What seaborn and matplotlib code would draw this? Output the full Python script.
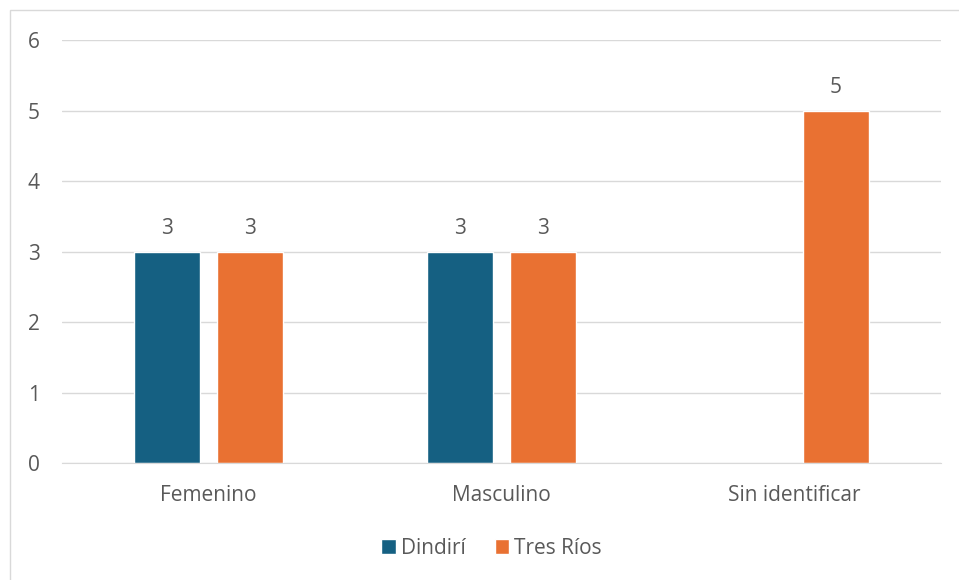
import matplotlib
matplotlib.use("Agg")
import matplotlib.pyplot as plt
import seaborn as sns
import pandas as pd
from matplotlib.patches import Rectangle

categorias = ["Femenino", "Masculino", "Sin identificar"]
dindiri = [3, 3, None]
tres_rios = [3, 3, 5]
series = ["Dindirí", "Tres Ríos"]
colores = ["#156082", "#E97132"]

df = pd.DataFrame({
    "categoria": categorias * 2,
    "serie": [series[0]] * 3 + [series[1]] * 3,
    "valor": dindiri + tres_rios,
})

sns.set_style("white")
plt.rcParams["font.family"] = ["Open Sans", "DejaVu Sans"]
texto = "#595959"
fs = 15

fig = plt.figure(figsize=(9.59, 5.8), dpi=100)
ax = fig.add_axes([0.0647, 0.2017, 0.9163, 0.7293])

sns.barplot(data=df, x="categoria", y="valor", hue="serie", palette=colores,
            width=0.57, gap=0.21, saturation=1, ax=ax, legend=True)

ax.set_ylim(0, 6)
ax.set_xlim(-0.5, 2.5)
ax.set_yticks(range(0, 7))
ax.yaxis.grid(True, color="#D9D9D9", linewidth=1)
ax.set_axisbelow(True)
for s in ["top", "right", "left"]:
    ax.spines[s].set_visible(False)
ax.spines["bottom"].set_color("#D9D9D9")
ax.tick_params(axis="both", length=0, labelsize=fs, labelcolor=texto)
ax.tick_params(axis="y", pad=16)
ax.tick_params(axis="x", pad=16)
ax.set_xlabel("")
ax.set_ylabel("")

for cont in ax.containers:
    etiquetas = ["" if pd.isna(v) else f"{v:g}" for v in cont.datavalues]
    ax.bar_label(cont, labels=etiquetas, padding=9, fontsize=fs, color=texto)

handles, labels = ax.get_legend_handles_labels()
ax.legend(handles, labels, loc="center", bbox_to_anchor=(0.5125, 0.055),
          bbox_transform=fig.transFigure, ncol=2, frameon=False,
          fontsize=fs, labelcolor=texto, handlelength=0.7, handleheight=0.7,
          handletextpad=0.25, columnspacing=1.4)

fig.patches.append(Rectangle((10 / 959, -0.1), 1.2, 1 - 10 / 580 + 0.1,
                             transform=fig.transFigure, fill=False,
                             edgecolor="#D9D9D9", linewidth=1))

fig.savefig("out.png", dpi=100)
